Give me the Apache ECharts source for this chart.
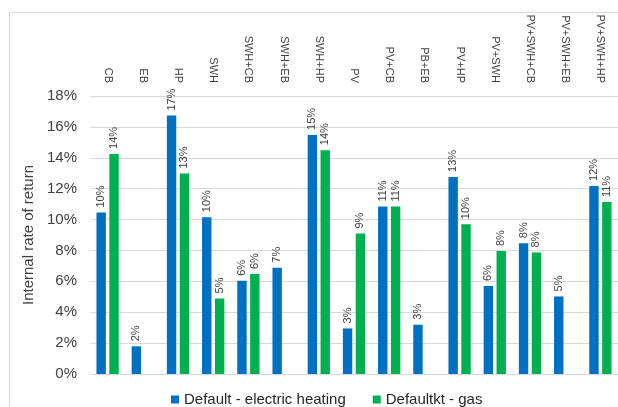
<!DOCTYPE html>
<html>
<head>
<meta charset="utf-8">
<script src="https://cdn.jsdelivr.net/npm/echarts@6/dist/echarts.min.js"></script>
<style>html,body{margin:0;padding:0;background:#fff;}#c{width:618px;height:407px;}</style>
</head>
<body>
<div id="c"></div>
<script>
const categories = ['CB','EB','HP','SWH','SWH+CB','SWH+EB','SWH+HP','PV','PV+CB','PB+EB','PV+HP','PV+SWH','PV+SWH+CB','PV+SWH+EB','PV+SWH+HP'];
const electricHeating = [10.45, 1.79, 16.73, 10.15, 6.03, 6.88, 15.48, 2.95, 10.84, 3.19, 12.76, 5.69, 8.47, 5.02, 12.18];
const gas = [14.25, null, 12.98, 4.89, 6.47, null, 14.49, 9.09, 10.84, null, 9.70, 7.96, 7.87, null, 11.13];
const seriesNames = ['Default - electric heating', 'Defaultkt - gas'];
const yTicks = [0, 2, 4, 6, 8, 10, 12, 14, 16, 18];

const FONT = '"Liberation Sans", Arial, sans-serif';
const chart = echarts.init(document.getElementById('c'), null, {renderer: 'canvas'});
const lbl = {
  show: true, position: 'top', rotate: 90, align: 'left', verticalAlign: 'middle',
  distance: 5, color: '#404040', fontSize: 11, fontFamily: FONT,
  formatter: p => Math.round(p.value) + '%'
};
chart.setOption({
  animation: false,
  graphic: [{
    type: 'rect', shape: {x: 9.5, y: 12.5, width: 700, height: 500},
    style: {fill: 'none', stroke: '#d9d9d9', lineWidth: 1}, silent: true
  }],
  grid: {left: 90, right: -5, top: 96, bottom: 33},
  legend: {
    top: 387, left: 166, itemWidth: 8, itemHeight: 8, itemGap: 27,
    icon: 'rect',
    textStyle: {fontSize: 15, color: '#262626', fontFamily: FONT},
    data: seriesNames
  },
  xAxis: [{
    type: 'category', data: categories, position: 'bottom',
    axisLine: {lineStyle: {color: '#d9d9d9'}}, axisTick: {show: false}, axisLabel: {show: false}
  }, {
    type: 'category', data: categories, position: 'top',
    axisLine: {show: false}, axisTick: {show: false},
    axisLabel: {rotate: 90, margin: 13, fontSize: 11, color: '#404040', fontFamily: FONT}
  }],
  yAxis: {
    type: 'value', min: 0, max: 18, interval: 2,
    name: 'Internal rate of return', nameLocation: 'middle', nameGap: 52, nameRotate: 90,
    nameTextStyle: {fontSize: 15, color: '#404040', fontFamily: FONT},
    axisLine: {show: false}, axisTick: {show: false},
    axisLabel: {margin: 13, fontSize: 15, color: '#404040', fontFamily: FONT,
      formatter: v => yTicks.includes(v) ? v + '%' : ''},
    splitLine: {lineStyle: {color: '#d9d9d9'}}
  },
  series: [{
    name: seriesNames[0], type: 'bar', data: electricHeating, barWidth: '26.7%', barGap: '37%',
    itemStyle: {color: '#0070C0'}, label: lbl
  }, {
    name: seriesNames[1], type: 'bar', data: gas, barWidth: '26.7%', barGap: '37%',
    itemStyle: {color: '#00B050'}, label: lbl
  }]
});
</script>
</body>
</html>
